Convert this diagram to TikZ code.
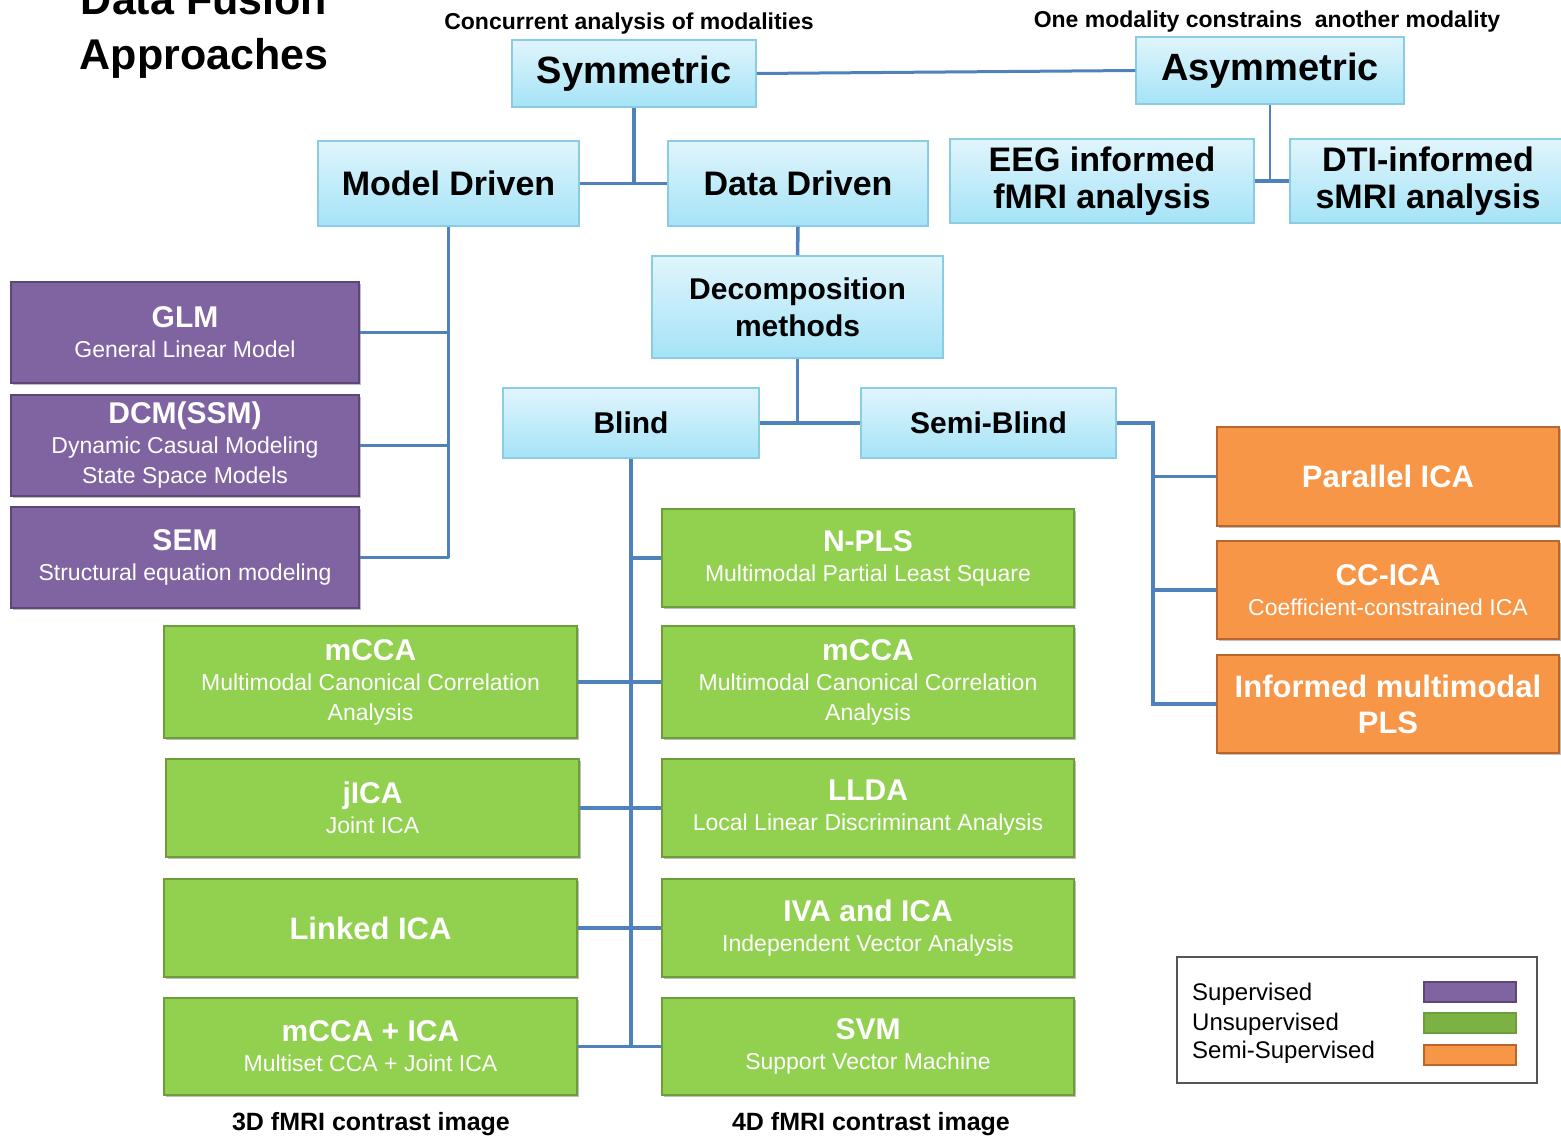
\documentclass[tikz,border=0pt]{standalone}
\usepackage{fontspec}
\setmainfont{Liberation Sans}
\usetikzlibrary{calc,shadows}
\definecolor{conn}{HTML}{4F81BD}
\definecolor{bluetop}{HTML}{E0F5FC}
\definecolor{bluebot}{HTML}{A5E3F7}
\definecolor{blueedge}{HTML}{8ACDE3}
\definecolor{purp}{HTML}{8064A2}
\definecolor{purpedge}{HTML}{5C4776}
\definecolor{grn}{HTML}{92D050}
\definecolor{grnedge}{HTML}{6E9E3C}
\definecolor{org}{HTML}{F79646}
\definecolor{orgedge}{HTML}{B8662A}
\definecolor{legedge}{HTML}{555555}
\tikzset{
 bluebox/.style={draw=blueedge, line width=1.5, top color=bluetop, bottom color=bluebot, inner sep=0, align=center, font=\bfseries\fontsize{34}{37}\selectfont},
 colbox/.style={inner sep=0, align=center, text=white, line width=2.5, font=\fontsize{23}{30}\selectfont, drop shadow={shadow xshift=2pt, shadow yshift=-2pt, opacity=0.25, fill=black}},
 pbox/.style={colbox, fill=purp, draw=purpedge},
 gbox/.style={colbox, fill=grn, draw=grnedge},
 obox/.style={colbox, fill=org, draw=orgedge},
 wire/.style={draw=conn, line width=3.5},
 note/.style={anchor=base, inner sep=0, font=\bfseries\fontsize{23}{25}\selectfont},
 legtext/.style={anchor=base west, inner sep=0, font=\fontsize{24}{26}\selectfont},
 swatch/.style={line width=2, inner sep=0},
}
\newcommand{\boxat}[7]{\node[#1, minimum width={#4-#2}, minimum height={#5-#3}] (#6) at ({(#2+#4)/2},{(#3+#5)/2}) {#7};}
\newcommand{\ttl}[1]{{\fontsize{30}{30}\selectfont\bfseries #1}}
\begin{document}
\begin{tikzpicture}[x=1pt,y=-1pt]
\useasboundingbox (0,0) rectangle (1561,1139);
\clip (0,0) rectangle (1561,1139);
% title
\node[anchor=base, inner sep=0, font=\bfseries\fontsize{43}{45}\selectfont] (t1) at (204,15) {Data Fusion};
\node[anchor=base, inner sep=0, font=\bfseries\fontsize{43}{45}\selectfont] (t2) at (204,70) {Approaches};
\node[note] (n1) at (629,30) {Concurrent analysis of modalities};
\node[note] (n2) at (1267,28) {One modality constrains\ \ another modality};
% blue boxes
\boxat{bluebox, font=\bfseries\fontsize{38}{40}\selectfont}{512}{40}{756}{107}{sym}{Symmetric}
\boxat{bluebox, font=\bfseries\fontsize{38}{40}\selectfont}{1136}{37}{1404}{104}{asym}{Asymmetric}
\boxat{bluebox}{318}{141}{579}{226}{md}{Model Driven}
\boxat{bluebox}{668}{141}{928}{226}{dd}{Data Driven}
\boxat{bluebox}{950}{139}{1254}{223}{eeg}{EEG informed\\fMRI analysis}
\boxat{bluebox}{1290}{139}{1566}{223}{dti}{DTI-informed\\sMRI analysis}
\boxat{bluebox, font=\bfseries\fontsize{30}{37}\selectfont}{652}{256}{943}{358}{dec}{Decomposition\\methods}
\boxat{bluebox, font=\bfseries\fontsize{30}{32}\selectfont}{503}{388}{759}{458}{blind}{Blind}
\boxat{bluebox, font=\bfseries\fontsize{30}{32}\selectfont}{861}{388}{1116}{458}{sblind}{Semi-Blind}
% purple
\boxat{pbox}{11}{282}{359}{383}{glm}{\ttl{GLM}\\General Linear Model}
\boxat{pbox}{11}{395}{359}{496}{dcm}{\ttl{DCM(SSM)}\\Dynamic Casual Modeling\\State Space Models}
\boxat{pbox}{11}{507}{359}{608}{sem}{\ttl{SEM}\\Structural equation modeling}
% orange
\boxat{obox, font=\bfseries\fontsize{31}{36}\selectfont}{1217}{427}{1559}{526}{par}{Parallel ICA}
\boxat{obox}{1217}{541}{1559}{639}{cc}{\ttl{CC-ICA}\\Coefficient-constrained ICA}
\boxat{obox, font=\bfseries\fontsize{31}{36}\selectfont}{1217}{655}{1559}{753}{inf}{Informed multimodal\\PLS}
% green
\boxat{gbox}{662}{509}{1074}{607}{npls}{\ttl{N-PLS}\\Multimodal Partial Least Square}
\boxat{gbox}{164}{626}{577}{738}{mccal}{\ttl{mCCA}\\Multimodal Canonical Correlation\\Analysis}
\boxat{gbox}{662}{626}{1074}{738}{mccar}{\ttl{mCCA}\\Multimodal Canonical Correlation\\Analysis}
\boxat{gbox}{166}{759}{579}{857}{jica}{\ttl{jICA}\\Joint ICA}
\boxat{gbox}{662}{759}{1074}{857}{llda}{\ttl{LLDA}\\Local Linear Discriminant Analysis}
\boxat{gbox, font=\bfseries\fontsize{31}{36}\selectfont}{164}{879}{577}{977}{link}{Linked ICA}
\boxat{gbox}{662}{879}{1074}{977}{iva}{\ttl{IVA and ICA}\\Independent Vector Analysis}
\boxat{gbox}{164}{998}{577}{1095}{mccaica}{\ttl{mCCA + ICA}\\Multiset CCA + Joint ICA}
\boxat{gbox}{662}{998}{1074}{1095}{svm}{\ttl{SVM}\\Support Vector Machine}
% bottom labels
\node[note, font=\bfseries\fontsize{25}{27}\selectfont] (l3d) at (371,1130) {3D fMRI contrast image};
\node[note, font=\bfseries\fontsize{25}{27}\selectfont] (l4d) at (871,1130) {4D fMRI contrast image};
% connectors
\draw[wire, line width=3] (sym.east) -- (asym.west);
\draw[wire] (sym.south) -- (sym.south |- md.east);
\draw[wire] (md.east) -- (dd.west);
\draw[wire, line width=2.5] (asym.south) -- (asym.south |- eeg.east);
\draw[wire] (eeg.east) -- (dti.west);
\draw[wire] (md.south) -- (md.south |- sem.east);
\draw[wire] (glm.east) -- (glm.east -| md.south);
\draw[wire] (dcm.east) -- (dcm.east -| md.south);
\draw[wire] (sem.east) -- (sem.east -| md.south);
\draw[wire] (dd.south) -- (dec.north);
\draw[wire] (dec.south) -- (dec.south |- blind.east);
\draw[wire] (blind.east) -- (sblind.west);
\coordinate (sbj) at ($(sblind.east)+(36,0)$);
\draw[wire] (sblind.east) -- (sbj) |- (inf.west);
\draw[wire] (sbj |- par.west) -- (par.west);
\draw[wire] (sbj |- cc.west) -- (cc.west);
\draw[wire] (blind.south) -- (blind.south |- svm.west);
\draw[wire] (blind.south |- npls.west) -- (npls.west);
\draw[wire] (mccal.east) -- (mccar.west);
\draw[wire] (jica.east) -- (llda.west);
\draw[wire] (link.east) -- (iva.west);
\draw[wire] (mccaica.east) -- (svm.west);
% legend
\boxat{draw=legedge, line width=2, fill=white, inner sep=0}{1177}{957}{1537}{1083}{leg}{}
\node[legtext] (ls) at (1192,1000) {Supervised};
\node[legtext] (lu) at (1192,1030) {Unsupervised};
\node[legtext] (lm) at (1192,1058) {Semi-Supervised};
\boxat{swatch, fill=purp, draw=purpedge}{1424}{982}{1516}{1002}{sw1}{}
\boxat{swatch, fill=grn!85!black, draw=grnedge}{1424}{1013}{1516}{1033}{sw2}{}
\boxat{swatch, fill=org, draw=orgedge}{1424}{1045}{1516}{1065}{sw3}{}
\end{tikzpicture}
\end{document}
